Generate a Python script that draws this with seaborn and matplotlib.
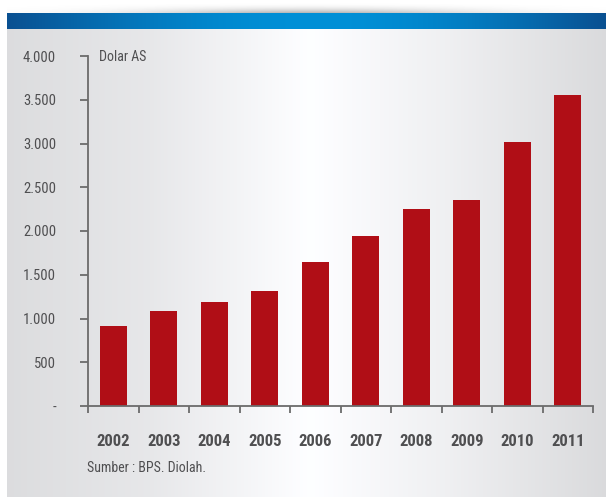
import numpy as np
import pandas as pd
import matplotlib
matplotlib.use("Agg")
import matplotlib.pyplot as plt
from matplotlib.ticker import FixedLocator, FuncFormatter
import seaborn as sns

# GDP per capita (US dollars)
years = ["2002", "2003", "2004", "2005", "2006", "2007", "2008", "2009", "2010", "2011"]
values = [920, 1090, 1190, 1310, 1650, 1945, 2255, 2350, 3020, 3555]
y_ticks = [0, 500, 1000, 1500, 2000, 2500, 3000, 3500, 4000]
unit_label = "Dolar AS"
source_note = "Sumber : BPS. Diolah."

sns.set_theme(style="white")
plt.rcParams["font.family"] = ["Roboto Condensed", "Open Sans Condensed",
                               "Liberation Sans Narrow", "Liberation Sans", "DejaVu Sans"]

W, H = 606, 497
fig = plt.figure(figsize=(W / 100, H / 100), dpi=100)
fig.patch.set_facecolor("white")

# ---- background: grey panel, blue header band, soft shadow ----
bg = fig.add_axes([0, 0, 1, 1], zorder=0)
bg.set_xlim(0, W)
bg.set_ylim(H, 0)
bg.axis("off")

xs = np.linspace(7, W, 600)
# grey panel, lighter towards the middle
g = np.interp(xs, [7, 150, 310, 450, 606], [221, 232, 255, 240, 219]) / 255.0
panel = np.stack([g - 0.004, g - 0.002, g + 0.006], axis=-1).clip(0, 1)[None, :, :]
bg.imshow(panel, extent=(7, W, H, 29), aspect="auto", interpolation="bilinear")

# blue band, brighter in the middle
c_edge = np.array([10, 80, 145]) / 255.0
c_mid = np.array([0, 144, 215]) / 255.0
t = np.interp(xs, [7, 320, 606], [0, 1, 0])
t = np.sin(t * np.pi / 2)
band = (c_edge[None, :] * (1 - t[:, None]) + c_mid[None, :] * t[:, None])[None, :, :]
bg.imshow(band, extent=(7, W, 29, 13), aspect="auto", interpolation="bilinear")

# shadow above the band
sx = np.linspace(7, W, 600)
sy = np.linspace(0, 1, 30)
ax_fall = np.exp(-((sx - 310) / 170) ** 2)
ay_fall = sy ** 2.2
alpha = (ay_fall[:, None] * ax_fall[None, :]) * 0.45
shadow = np.zeros((30, 600, 4))
shadow[..., :3] = 0.35
shadow[..., 3] = alpha
bg.imshow(shadow, extent=(7, W, 13, 2), aspect="auto", interpolation="bilinear")

# ---- bar chart ----
ax = fig.add_axes([88 / W, 91 / H, 505 / W, 350 / H], zorder=1)
ax.patch.set_alpha(0)
df = pd.DataFrame({"year": years, "value": values})
sns.barplot(data=df, x="year", y="value", color="#b00e16", saturation=1,
            width=0.53, linewidth=0, ax=ax)

ax.set_xlim(-0.5, len(years) - 0.5)
ax.set_ylim(0, 4000)
ax.set_xlabel("")
ax.set_ylabel("")

spine_c = "#6b6b6b"
text_c = "#4f4f51"
for s in ["top", "right"]:
    ax.spines[s].set_visible(False)
for s in ["left", "bottom"]:
    ax.spines[s].set_color(spine_c)
    ax.spines[s].set_linewidth(1.3)

ax.yaxis.set_major_locator(FixedLocator(y_ticks))
ax.yaxis.set_major_formatter(FuncFormatter(
    lambda v, p: "-" if v == 0 else f"{int(v):,}".replace(",", ".")))
ax.tick_params(axis="y", which="major", left=True, length=6, width=1.3,
               color=spine_c, pad=17, labelsize=10.5, labelcolor=text_c)

ax.xaxis.set_minor_locator(FixedLocator(np.arange(-0.5, len(years), 1.0)))
ax.tick_params(axis="x", which="minor", bottom=True, length=5, width=1.3, color=spine_c)
ax.tick_params(axis="x", which="major", bottom=False, length=0, pad=20,
               labelsize=12, labelcolor=text_c)
for lab in ax.get_xticklabels():
    lab.set_fontweight("bold")

ax.grid(False)

fig.text(99 / W, 1 - 57 / H, unit_label, ha="left", va="center",
         fontsize=10, color=text_c)
fig.text(87 / W, 1 - 468 / H, source_note, ha="left", va="center",
         fontsize=10, color=text_c)

fig.savefig("out.png", dpi=100, facecolor=fig.get_facecolor())
